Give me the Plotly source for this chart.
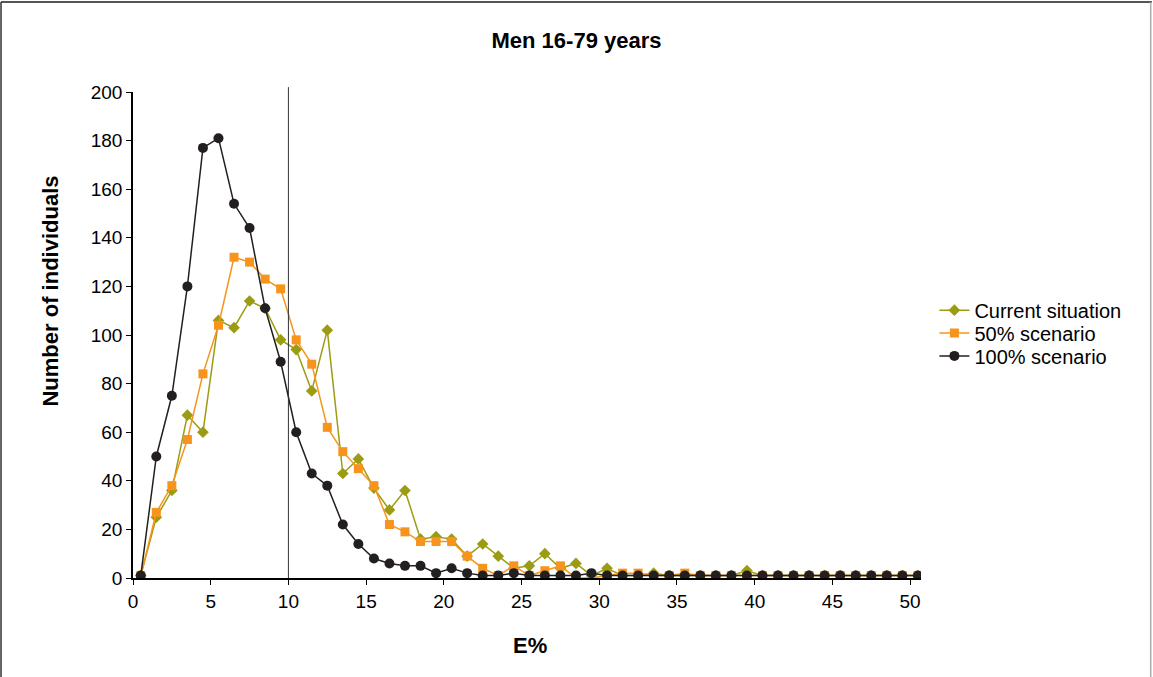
import plotly.graph_objects as go

# E% bins (midpoints)
e_pct = [i + 0.5 for i in range(51)]

current_situation = [1, 25, 36, 67, 60, 106, 103, 114, 111, 98,
                     94, 77, 102, 43, 49, 37, 28, 36, 16, 17,
                     16, 9, 14, 9, 4, 5, 10, 4, 6, 1,
                     4, 1, 1, 2, 1, 1, 1, 1, 1, 3,
                     1, 1, 1, 1, 1, 1, 1, 1, 1, 1, 1]
scenario_50 = [1, 27, 38, 57, 84, 104, 132, 130, 123, 119,
               98, 88, 62, 52, 45, 38, 22, 19, 15, 15,
               15, 9, 4, 1, 5, 1, 3, 5, 0, 0,
               1, 2, 2, 1, 1, 2, 1, 1, 1, 1,
               1, 1, 1, 1, 1, 1, 1, 1, 1, 1, 1]
scenario_100 = [1, 50, 75, 120, 177, 181, 154, 144, 111, 89,
                60, 43, 38, 22, 14, 8, 6, 5, 5, 2,
                4, 2, 1, 1, 2, 1, 1, 1, 1, 2,
                1, 1, 1, 1, 1, 1, 1, 1, 1, 1,
                1, 1, 1, 1, 1, 1, 1, 1, 1, 1, 1]

x_ticks = list(range(0, 51, 5))
y_ticks = list(range(0, 201, 20))

fig = go.Figure()

# one legend per series so the rows can sit tightly like the original
fig.add_trace(go.Scatter(
    x=e_pct, y=current_situation, mode='lines+markers', name='Current situation',
    line=dict(color='#9c9c14', width=1.5),
    marker=dict(symbol='diamond', size=9, color='#9c9c14'),
    legend='legend'
))
fig.add_trace(go.Scatter(
    x=e_pct, y=scenario_50, mode='lines+markers', name='50% scenario',
    line=dict(color='#f7941d', width=1.5),
    marker=dict(symbol='square', size=9, color='#f7941d'),
    legend='legend2'
))
fig.add_trace(go.Scatter(
    x=e_pct, y=scenario_100, mode='lines+markers', name='100% scenario',
    line=dict(color='#231f20', width=1.5),
    marker=dict(symbol='circle', size=10, color='#231f20'),
    legend='legend3'
))

# vertical reference line at 10 E%
fig.add_shape(type='line', xref='x', yref='paper', x0=10, x1=10, y0=0, y1=1.01,
              line=dict(color='#333333', width=1))

# outer frame of the figure
fig.add_shape(type='line', xref='paper', yref='paper', x0=-0.1675, x1=1.293,
              y0=1.185, y1=1.185, line=dict(color='#555555', width=2))
fig.add_shape(type='line', xref='paper', yref='paper', x0=-0.1675, x1=-0.1675,
              y0=-0.21, y1=1.185, line=dict(color='#333333', width=1.5))
fig.add_shape(type='line', xref='paper', yref='paper', x0=1.2915, x1=1.2915,
              y0=-0.21, y1=1.185, line=dict(color='#aaaaaa', width=1.5))

fig.add_annotation(text='<b>Number of individuals</b>', xref='paper', yref='paper',
                   x=-0.105, y=0.59, textangle=-90, showarrow=False,
                   xanchor='center', yanchor='middle',
                   font=dict(size=22, color='black'))
fig.add_annotation(text='<b>E%</b>', xref='paper', yref='paper',
                   x=0.504, y=-0.138, showarrow=False,
                   xanchor='center', yanchor='middle',
                   font=dict(size=22, color='black'))

legend_style = dict(x=1.017, xanchor='left', yanchor='middle',
                    font=dict(size=20), itemwidth=30, bgcolor='rgba(0,0,0,0)')

fig.update_layout(
    width=1153, height=677,
    title=dict(text='<b>Men 16-79 years</b>', x=0.5, xref='container',
               y=1 - 40 / 677, yanchor='middle',
               font=dict(size=22, color='black')),
    font=dict(family='Liberation Sans, Arial, sans-serif', size=19, color='black'),
    margin=dict(l=133, r=232, t=92, b=99),
    plot_bgcolor='white', paper_bgcolor='white',
    legend=dict(y=0.551, **legend_style),
    legend2=dict(y=0.504, **legend_style),
    legend3=dict(y=0.457, **legend_style),
    xaxis=dict(range=[0, 50.7], tickvals=x_ticks, showgrid=False, zeroline=False,
               showline=True, linecolor='black', linewidth=1.5,
               ticks='outside', ticklen=5, tickcolor='black'),
    yaxis=dict(range=[0, 200], tickvals=y_ticks, showgrid=False, zeroline=False,
               showline=True, linecolor='black', linewidth=1.5,
               ticks='outside', ticklen=5, tickcolor='black'),
    showlegend=True
)

fig.write_html("out.html", config={'displayModeBar': False},
               post_script="document.body.style.margin='0';")
